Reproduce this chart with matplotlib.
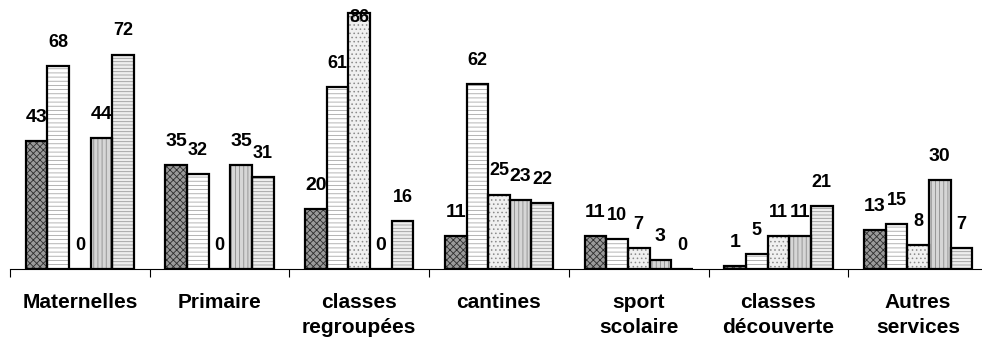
import matplotlib
matplotlib.use("Agg")
import matplotlib.pyplot as plt
import numpy as np

CATEGORIES = [
    "Maternelles",
    "Primaire",
    "classes\nregroupées",
    "cantines",
    "sport\nscolaire",
    "classes\ndécouverte",
    "Autres\nservices",
]

SERIES_1 = [43, 35, 20, 11, 11, 1, 13]
SERIES_2 = [68, 32, 61, 62, 10, 5, 15]
SERIES_3 = [0, 0, 86, 25, 7, 11, 8]
SERIES_4 = [44, 35, 0, 23, 3, 11, 30]
SERIES_5 = [72, 31, 16, 22, 0, 21, 7]

SERIES = [SERIES_1, SERIES_2, SERIES_3, SERIES_4, SERIES_5]

# face colour, hatch, hatch colour, label size
STYLES = [
    ("#9a9a9a", "xxxxx", "#2e2e2e", 14),
    ("#ffffff", "----", "#a8a8a8", 13),
    ("#f0f0f0", "....", "#8a8a8a", 13),
    ("#d6d6d6", "||||", "#8c8c8c", 14),
    ("#eeeeee", "-----", "#9c9c9c", 13),
]

YMAX = 90.3


def main():
    plt.rcParams.update(
        {
            "font.family": ["Liberation Sans", "DejaVu Sans"],
            "font.weight": "bold",
            "hatch.linewidth": 0.6,
        }
    )

    fig = plt.figure(figsize=(9.82, 3.40), dpi=100)
    ax = fig.add_axes([10 / 982, 71 / 340, 978 / 982, 269 / 340])

    x = np.arange(len(CATEGORIES), dtype=float)
    width = 0.155
    offsets = (np.arange(5) - 2) * width

    for idx, values in enumerate(SERIES):
        face, hatch, hcol, fsize = STYLES[idx]
        pos = x + offsets[idx]
        ax.bar(pos, values, width=width, color=face, hatch=hatch,
               edgecolor=hcol, linewidth=0, zorder=2)
        ax.bar(pos, values, width=width, fill=False, edgecolor="black",
               linewidth=1.6, zorder=3)
        for px, v in zip(pos, values):
            ly = min(v + 7.9, YMAX - 6.0)
            ax.text(px, ly, str(v), ha="center", va="center",
                    fontsize=fsize, fontweight="bold", zorder=4)

    ax.set_xlim(-0.5, len(CATEGORIES) - 0.5)
    ax.set_ylim(0, YMAX)

    ax.set_xticks(np.arange(len(CATEGORIES) + 1) - 0.5)
    ax.set_xticklabels([])
    ax.tick_params(axis="x", which="major", direction="out", length=5.5,
                   width=0.8, color="black")
    ax.set_xticks(x, minor=True)
    ax.set_xticklabels(CATEGORIES, minor=True, fontsize=15,
                       fontweight="bold", linespacing=1.4)
    ax.tick_params(axis="x", which="minor", length=0, pad=17)

    ax.set_yticks([])
    for side in ("left", "top", "right"):
        ax.spines[side].set_visible(False)
    ax.spines["bottom"].set_linewidth(0.8)

    fig.savefig("out.png", dpi=100)


if __name__ == "__main__":
    main()
